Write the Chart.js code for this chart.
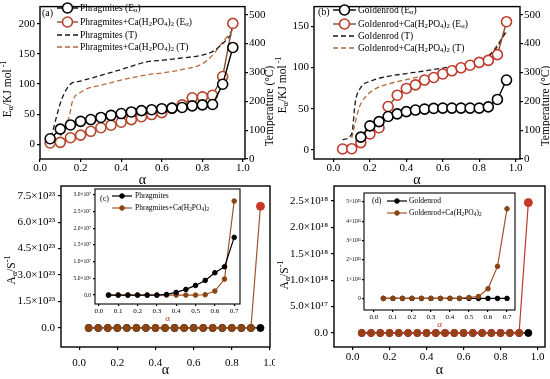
<!DOCTYPE html>
<html>
<head>
<meta charset="utf-8">
<script src="https://cdn.jsdelivr.net/npm/chart.js@4.4.0/dist/chart.umd.min.js"></script>
<style>
  html, body { margin: 0; padding: 0; background: #fff; }
  #wrap { position: relative; width: 550px; height: 379px; overflow: hidden; }
  canvas { position: absolute; }
</style>
</head>
<body>
<div id="wrap">
  <canvas id="pa" width="275" height="190" style="left:0;top:0"></canvas>
  <canvas id="pb" width="275" height="190" style="left:275px;top:0"></canvas>
  <canvas id="pc" width="275" height="199" style="left:0;top:180px"></canvas>
  <canvas id="pd" width="275" height="199" style="left:275px;top:180px"></canvas>
  <canvas id="pcIn" width="185" height="140" style="left:60px;top:184px"></canvas>
  <canvas id="pdIn" width="190" height="142" style="left:330px;top:188px"></canvas>
</div>
<script>
const FONT = 'Liberation Serif';

// conversion degree, 0.05 steps
const alpha = [0.05, 0.10, 0.15, 0.20, 0.25, 0.30, 0.35, 0.40, 0.45, 0.50, 0.55, 0.60, 0.65, 0.70, 0.75, 0.80, 0.85, 0.90, 0.95];

// (a) Phragmites activation energy (kJ/mol) and temperature (C)
const phragEa   = [9, 25, 32, 38, 41, 44.5, 48, 51, 53.6, 55.8, 57.4, 59, 60, 61, 63.8, 65.4, 66, 99.7, 161];
const phragCaEa = [2, 3, 10.7, 15, 21.4, 27.3, 31.6, 36.5, 40.8, 45.6, 49.3, 52.5, 59.5, 65.4, 77.2, 78.8, 81.5, 112.6, 201];
const phragTAlpha = [0.055, 0.105, 0.15, 0.20, 0.30, 0.40, 0.53, 0.60, 0.70, 0.80, 0.85, 0.90, 0.95];
const phragT      = [75, 203, 259, 270, 290, 310, 337, 342, 350, 360, 372, 400, 437];
const phragCaTAlpha = [0.10, 0.12, 0.145, 0.16, 0.20, 0.32, 0.53, 0.60, 0.70, 0.80, 0.85, 0.90, 0.95];
const phragCaT      = [80, 103, 150, 200, 231, 259, 292, 298, 310, 330, 360, 405, 448];

// (b) Goldenrod
const goldEa   = [null, null, 15.6, 29.3, 34.4, 40.6, 43.8, 46.5, 48.4, 49.6, 50.4, 50.8, 50.8, 50.8, 50.8, 50.8, 52.3, 61.3, 84.8];
const goldCaEa = [1.2, 1.6, 9, 19.5, 27, 52.7, 66.4, 74.6, 78.9, 84.8, 87.9, 92.2, 96, 99.6, 102.7, 106.2, 108.6, 115.6, 155.5];
const goldTAlpha = [0.05, 0.10, 0.12, 0.15, 0.21, 0.28, 0.40, 0.49, 0.60, 0.70, 0.80, 0.85, 0.90, 0.95];
const goldT      = [67, 87, 198, 248, 271, 284, 296, 304, 315, 326, 343, 357, 390, 447];
const goldCaTAlpha = [0.10, 0.14, 0.175, 0.23, 0.30, 0.40, 0.49, 0.60, 0.70, 0.80, 0.85, 0.90, 0.95];
const goldCaT      = [72, 176, 215, 243, 260, 275, 287, 302, 317, 337, 355, 396, 440];

// (c) pre-exponential factor, Phragmites
const phragAa   = [0, 0, 0, 0, 0, 0, 0, 0, 0, 0, 0, 0, 0, 0, 0, 0, 0, 0, 0];
const phragCaAa = [0, 0, 0, 0, 0, 0, 0, 0, 0, 0, 0, 0, 0, 0, 0, 0, 0, 0, 6.9e23];
const alphaIn = [0.05, 0.10, 0.15, 0.20, 0.25, 0.30, 0.35, 0.40, 0.45, 0.50, 0.55, 0.60, 0.65, 0.70];
const phragAin   = [0, 0, 0, 0, 0, 0, 2e5, 8e5, 1.7e6, 2.9e6, 4.4e6, 6.7e6, 8.5e6, 1.73e7];
const phragCaAin = [0, 0, 0, 0, 0, 0, 0, 0, 0, 0, 1e5, 1.2e6, 4.8e6, 2.82e7];

// (d) pre-exponential factor, Goldenrod
const goldAa   = [0, 0, 0, 0, 0, 0, 0, 0, 0, 0, 0, 0, 0, 0, 0, 0, 0, 0, 0];
const goldCaAa = [0, 0, 0, 0, 0, 0, 0, 0, 0, 0, 0, 0, 0, 0, 0, 0, 0, 0, 2.47e18];
const goldAin   = [0, 0, 0, 0, 0, 0, 0, 0, 0, 0, 0, 0, 0, 0];
const goldCaAin = [0, 0, 0, 0, 0, 0, 0, 0, 0, 5e9, 1e10, 5e10, 1.66e11, 4.64e11];

// ticks
const xTicks = [0, 0.2, 0.4, 0.6, 0.8, 1.0];
const xLabels = ['0.0', '0.2', '0.4', '0.6', '0.8', '1.0'];
const inXTicks = [0, 0.1, 0.2, 0.3, 0.4, 0.5, 0.6, 0.7];
const inXLabels = ['0.0', '0.1', '0.2', '0.3', '0.4', '0.5', '0.6', '0.7'];
const aYTicks = [0, 50, 100, 150, 200];
const bYTicks = [0, 50, 100, 150];
const tempTicks = [0, 100, 200, 300, 400, 500];
const cYTicks = [0, 1.5e23, 3e23, 4.5e23, 6e23, 7.5e23];
const cYLabels = ['0.0', '1.5×10²³', '3.0×10²³', '4.5×10²³', '6.0×10²³', '7.5×10²³'];
const cInYTicks = [0, 5e6, 1e7, 1.5e7, 2e7, 2.5e7, 3e7];
const cInYLabels = ['0.0', '5.0×10⁶', '1.0×10⁷', '1.5×10⁷', '2.0×10⁷', '2.5×10⁷', '3.0×10⁷'];
const dYTicks = [0, 5e17, 1e18, 1.5e18, 2e18, 2.5e18];
const dYLabels = ['0.0', '5.0×10¹⁷', '1.0×10¹⁸', '1.5×10¹⁸', '2.0×10¹⁸', '2.5×10¹⁸'];
const dInYTicks = [0, 1e11, 2e11, 3e11, 4e11, 5e11];
const dInYLabels = ['0', '1×10¹¹', '2×10¹¹', '3×10¹¹', '4×10¹¹', '5×10¹¹'];

const BROWN = '#8a4b2c', RING = '#b5472d', TBROWN = '#b4693e', DOT = '#8b4513', REDDOT = '#c8382a';

function pts(xs, ys) {
  const out = [];
  xs.forEach((x, i) => { if (ys[i] != null) out.push({ x: x, y: ys[i] }); });
  return out;
}

// draws text with _{sub} and ^{sup} parts
function richWidth(ctx, str, size) {
  let w = 0;
  str.split(/(_\{[^}]*\}|\^\{[^}]*\})/).forEach(p => {
    if (!p) return;
    let t = p, s = size;
    if (p[0] === '_' || p[0] === '^') { t = p.slice(2, -1); s = size * 0.7; }
    ctx.font = s + 'px "' + FONT + '"';
    w += ctx.measureText(t).width;
  });
  return w;
}
function drawRich(ctx, str, x, y, size) {
  str.split(/(_\{[^}]*\}|\^\{[^}]*\})/).forEach(p => {
    if (!p) return;
    let t = p, s = size, dy = 0;
    if (p[0] === '_') { t = p.slice(2, -1); s = size * 0.7; dy = size * 0.28; }
    else if (p[0] === '^') { t = p.slice(2, -1); s = size * 0.7; dy = -size * 0.32; }
    ctx.font = s + 'px "' + FONT + '"';
    ctx.fillText(t, x, y + dy);
    x += ctx.measureText(t).width;
  });
}

// frame, legend and rotated axis titles
function panelPlugin(cfg) {
  return {
    id: 'panel',
    afterDraw(chart) {
      const ctx = chart.ctx, a = chart.chartArea;
      ctx.save();
      ctx.strokeStyle = '#000';
      ctx.lineWidth = cfg.frame || 1.4;
      ctx.strokeRect(a.left, a.top, a.right - a.left, a.bottom - a.top);
      ctx.fillStyle = '#000';
      ctx.textBaseline = 'middle';
      if (cfg.tag) drawRich(ctx, cfg.tag, cfg.tagX, cfg.tagY, cfg.fs + 0.5);
      const labels = cfg.labels || [];
      chart.data.datasets.forEach((ds, i) => {
        if (labels[i] == null) return;
        const y = cfg.rows[i], x0 = cfg.lineX, x1 = cfg.lineX + cfg.lineLen;
        ctx.save();
        ctx.strokeStyle = ds.borderColor;
        ctx.lineWidth = ds.borderWidth;
        ctx.setLineDash(ds.borderDash || []);
        ctx.beginPath(); ctx.moveTo(x0, y); ctx.lineTo(x1, y); ctx.stroke();
        ctx.setLineDash([]);
        if (ds.pointRadius) {
          const fill = Array.isArray(ds.pointBackgroundColor) ? ds.pointBackgroundColor[0] : ds.pointBackgroundColor;
          const ring = Array.isArray(ds.pointBorderColor) ? ds.pointBorderColor[0] : ds.pointBorderColor;
          ctx.beginPath();
          ctx.arc((x0 + x1) / 2, y, cfg.legR || ds.pointRadius, 0, Math.PI * 2);
          ctx.fillStyle = fill; ctx.fill();
          ctx.strokeStyle = ring; ctx.lineWidth = ds.pointBorderWidth; ctx.stroke();
        }
        ctx.restore();
        ctx.fillStyle = '#000';
        ctx.textBaseline = 'middle';
        drawRich(ctx, labels[i], cfg.textX, y, cfg.fs);
      });
      (cfg.titles || []).forEach(t => {
        ctx.save();
        ctx.translate(t.x, t.y);
        ctx.rotate(-Math.PI / 2);
        ctx.fillStyle = '#000';
        ctx.textBaseline = 'middle';
        drawRich(ctx, t.text, -richWidth(ctx, t.text, t.fs) / 2, 0, t.fs);
        ctx.restore();
      });
      ctx.restore();
    }
  };
}

function axis(o) {
  return {
    type: 'linear', position: o.pos, min: o.min, max: o.max,
    afterBuildTicks: s => { s.ticks = o.ticks.map(v => ({ value: v })); },
    afterFit: s => {
      if (s.isHorizontal()) s.height = o.size; else s.width = o.size;
      s.paddingLeft = 0; s.paddingRight = 0; s.paddingTop = 0; s.paddingBottom = 0;
    },
    ticks: {
      autoSkip: false, maxRotation: 0, minRotation: 0, padding: o.pad, color: '#000',
      font: { family: FONT, size: o.fs },
      callback: (v, i) => o.labels ? o.labels[i] : String(v)
    },
    grid: { drawOnChartArea: false, tickLength: o.tl || 3, color: '#000', lineWidth: 1.2 },
    border: { display: false },
    title: o.title ? { display: true, text: o.title, color: o.titleColor || '#000',
      font: { family: FONT, size: o.titleFs || 14 }, padding: { top: 0, bottom: o.titlePad || 0 } } : { display: false }
  };
}

function ringSet(data, ring, line, yAxis) {
  return { data: data, yAxisID: yAxis || 'y', borderColor: line, borderWidth: 1.4,
    pointRadius: 5, pointBorderWidth: 1.6, pointBorderColor: ring, pointBackgroundColor: '#fff', tension: 0 };
}
function dashSet(data, color) {
  return { data: data, yAxisID: 'y1', borderColor: color, borderWidth: 1.3, borderDash: [5, 3],
    pointRadius: 0, cubicInterpolationMode: 'monotone' };
}
function dotSet(data, color, line, r, order) {
  return { data: data, borderColor: line, borderWidth: 1.2, pointRadius: r,
    pointBorderWidth: 1, pointBorderColor: color, pointBackgroundColor: color, order: order };
}

const base = { responsive: false, animation: false, events: [],
  plugins: { legend: { display: false }, tooltip: { enabled: false } } };

// panel (a)
new Chart(document.getElementById('pa'), {
  type: 'line',
  data: { datasets: [
    ringSet(pts(alpha, phragEa), '#000', '#000'),
    ringSet(pts(alpha, phragCaEa), RING, BROWN),
    dashSet(pts(phragTAlpha, phragT), '#1a1a1a'),
    dashSet(pts(phragCaTAlpha, phragCaT), TBROWN)
  ] },
  options: Object.assign({}, base, {
    layout: { padding: { top: 2, right: 0, bottom: 0, left: 0 } },
    scales: {
      x: axis({ min: 0, max: 1.01, ticks: xTicks, labels: xLabels, size: 31, pad: 0, fs: 11, title: 'α', titlePad: 1 }),
      y: axis({ pos: 'left', min: -24.7, max: 229, ticks: aYTicks, size: 40, pad: 2, fs: 11 }),
      y1: axis({ pos: 'right', min: 0, max: 528, ticks: tempTicks, size: 30, pad: 1, fs: 11 })
    }
  }),
  plugins: [panelPlugin({
    tag: '(a)', tagX: 42, tagY: 13, rows: [8, 22, 35, 47], lineX: 57, lineLen: 21, textX: 80, fs: 9.5,
    labels: ['Phragmites (E_{α})', 'Phragmites+Ca(H_{2}PO_{4})_{2} (E_{α})', 'Phragmites (T)', 'Phragmites+Ca(H_{2}PO_{4})_{2} (T)'],
    titles: [{ text: 'E_{α}/KJ mol^{ -1}', x: 8, y: 89, fs: 11.5 }, { text: 'Temperature (°C)', x: 270, y: 106, fs: 11.5 }]
  })]
});

// panel (b)
new Chart(document.getElementById('pb'), {
  type: 'line',
  data: { datasets: [
    ringSet(pts(alpha, goldEa), '#000', '#000'),
    ringSet(pts(alpha, goldCaEa), '#c0392b', BROWN),
    dashSet(pts(goldTAlpha, goldT), '#1a1a1a'),
    dashSet(pts(goldCaTAlpha, goldCaT), TBROWN)
  ] },
  options: Object.assign({}, base, {
    layout: { padding: { top: 2, right: 0, bottom: 0, left: 0 } },
    scales: {
      x: axis({ min: -0.107, max: 1.024, ticks: xTicks, labels: xLabels, size: 31, pad: 0, fs: 11, title: 'α', titlePad: 1 }),
      y: axis({ pos: 'left', min: -10.9, max: 173.8, ticks: bYTicks, size: 39, pad: 2, fs: 11 }),
      y1: axis({ pos: 'right', min: 0, max: 528, ticks: tempTicks, size: 30, pad: 1, fs: 11 })
    }
  }),
  plugins: [panelPlugin({
    tag: '(b)', tagX: 43, tagY: 12, rows: [10, 24, 36, 48], lineX: 58, lineLen: 23, textX: 83, fs: 9.5,
    labels: ['Goldenrod (E_{α})', 'Goldenrod+Ca(H_{2}PO_{4})_{2} (E_{α})', 'Goldenrod (T)', 'Goldenrod+Ca(H_{2}PO_{4})_{2} (T)'],
    titles: [{ text: 'E_{α}/KJ mol^{ -1}', x: 8, y: 85, fs: 11.5 }, { text: 'Temperature (°C)', x: 271, y: 106, fs: 11.5 }]
  })]
});

// panel (c)
const lastRed = n => alpha.map((a, i) => i === n - 1 ? REDDOT : DOT);
new Chart(document.getElementById('pc'), {
  type: 'line',
  data: { datasets: [
    dotSet(pts(alpha, phragAa), '#000', '#000', 3.5, 1),
    Object.assign(dotSet(pts(alpha, phragCaAa), DOT, '#a0522d', 3.5, 0),
      { pointBackgroundColor: lastRed(alpha.length), pointBorderColor: lastRed(alpha.length), pointRadius: alpha.map((a, i) => i === alpha.length - 1 ? 4 : 3.5) })
  ] },
  options: Object.assign({}, base, {
    layout: { padding: { top: 6, right: 4, bottom: 0, left: 0 } },
    scales: {
      x: axis({ min: -0.095, max: 1.0, ticks: xTicks, labels: xLabels, size: 32, pad: 7, fs: 11, title: 'α', titlePad: 0 }),
      y: axis({ pos: 'left', min: -1.08e23, max: 8.05e23, ticks: cYTicks, labels: cYLabels, size: 61, pad: 3, fs: 11 })
    }
  }),
  plugins: [panelPlugin({
    titles: [{ text: 'A_{α}/S^{-1}', x: 12, y: 90, fs: 11.5 }]
  })]
});

// panel (d)
new Chart(document.getElementById('pd'), {
  type: 'line',
  data: { datasets: [
    dotSet(pts(alpha, goldAa), '#000', '#000', 3.5, 1),
    Object.assign(dotSet(pts(alpha, goldCaAa), '#a8402a', '#c0392b', 3.5, 0),
      { pointBackgroundColor: lastRed(alpha.length), pointBorderColor: REDDOT, pointRadius: alpha.map((a, i) => i === alpha.length - 1 ? 4 : 3.5) })
  ] },
  options: Object.assign({}, base, {
    layout: { padding: { top: 6, right: 3, bottom: 0, left: 0 } },
    scales: {
      x: axis({ min: -0.1, max: 1.04, ticks: xTicks, labels: xLabels, size: 32, pad: 1, fs: 11, title: 'α', titlePad: 0 }),
      y: axis({ pos: 'left', min: -0.266e18, max: 2.785e18, ticks: dYTicks, labels: dYLabels, size: 59, pad: 3, fs: 11 })
    }
  }),
  plugins: [panelPlugin({
    titles: [{ text: 'A_{α}/S^{-1}', x: 10, y: 95, fs: 11.5 }]
  })]
});

// inset (c)
new Chart(document.getElementById('pcIn'), {
  type: 'line',
  data: { datasets: [
    dotSet(pts(alphaIn, phragAin), '#000', '#000', 2.3, 0),
    dotSet(pts(alphaIn, phragCaAin), DOT, '#a0522d', 2.3, 1)
  ] },
  options: Object.assign({}, base, {
    layout: { padding: { top: 4, right: 5, bottom: 0, left: 0 } },
    scales: {
      x: axis({ min: -0.02, max: 0.73, ticks: inXTicks, labels: inXLabels, size: 20, pad: 1, fs: 7, tl: 2,
        title: 'α', titleFs: 9, titleColor: '#c0392b', titlePad: 0 }),
      y: axis({ pos: 'left', min: -0.267e7, max: 3.18e7, ticks: cInYTicks, labels: cInYLabels, size: 35, pad: 2, fs: 5.5, tl: 2 })
    }
  }),
  plugins: [panelPlugin({
    frame: 1.1, tag: '(c)', tagX: 40, tagY: 15, rows: [12, 24], lineX: 52, lineLen: 20, textX: 75, fs: 7.5, legR: 2.3,
    labels: ['Phragmites', 'Phragmites+Ca(H_{2}PO_{4})_{2}']
  })]
});

// inset (d)
new Chart(document.getElementById('pdIn'), {
  type: 'line',
  data: { datasets: [
    dotSet(pts(alphaIn, goldAin), '#000', '#000', 2.3, 1),
    dotSet(pts(alphaIn, goldCaAin), DOT, '#a0522d', 2.3, 0)
  ] },
  options: Object.assign({}, base, {
    layout: { padding: { top: 4, right: 4, bottom: 0, left: 0 } },
    scales: {
      x: axis({ min: -0.052, max: 0.742, ticks: inXTicks, labels: inXLabels, size: 20, pad: 1, fs: 7, tl: 2,
        title: 'α', titleFs: 9, titleColor: '#c0392b', titlePad: 0 }),
      y: axis({ pos: 'left', min: -0.6e11, max: 5.46e11, ticks: dInYTicks, labels: dInYLabels, size: 34, pad: 1, fs: 5.5, tl: 2 })
    }
  }),
  plugins: [panelPlugin({
    frame: 1.1, tag: '(d)', tagX: 42, tagY: 13, rows: [13, 25], lineX: 57, lineLen: 20, textX: 79, fs: 7.5, legR: 2.3,
    labels: ['Goldenrod', 'Goldenrod+Ca(H_{2}PO_{4})_{2}']
  })]
});
</script>
</body>
</html>
